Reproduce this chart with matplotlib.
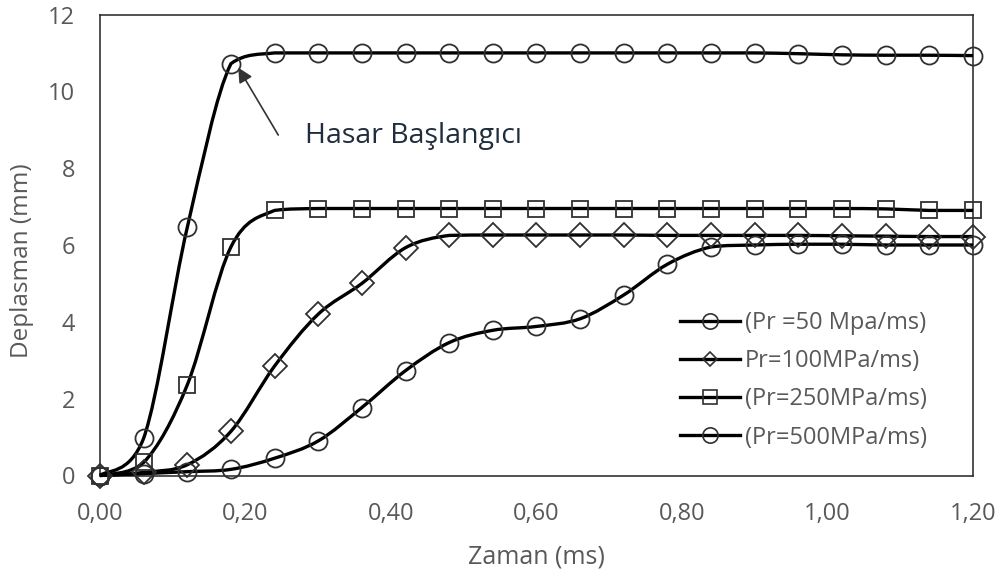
import numpy as np
import matplotlib
matplotlib.use('Agg')
import matplotlib.pyplot as plt
from matplotlib.path import Path
from matplotlib.patches import PathPatch
from matplotlib.lines import Line2D
from matplotlib.ticker import FuncFormatter

###############################################################################
# Data
###############################################################################
zaman = [0.00, 0.06, 0.12, 0.18, 0.24, 0.30, 0.36, 0.42, 0.48, 0.54, 0.60,
         0.66, 0.72, 0.78, 0.84, 0.90, 0.96, 1.02, 1.08, 1.14, 1.20]

pr50 = [0.0, 0.05, 0.10, 0.16, 0.45, 0.90, 1.77, 2.73, 3.46, 3.78, 3.88,
        4.08, 4.70, 5.50, 5.95, 6.00, 6.02, 6.02, 6.00, 6.00, 6.00]
pr100 = [0.0, 0.08, 0.28, 1.15, 2.85, 4.20, 5.00, 5.93, 6.25, 6.26, 6.26,
         6.26, 6.26, 6.25, 6.25, 6.25, 6.25, 6.24, 6.23, 6.22, 6.22]
pr250 = [0.0, 0.34, 2.36, 5.95, 6.90, 6.95, 6.95, 6.95, 6.95, 6.95, 6.95,
         6.95, 6.95, 6.95, 6.95, 6.95, 6.95, 6.95, 6.94, 6.90, 6.90]
pr500 = [0.0, 0.97, 6.46, 10.72, 11.00, 11.00, 11.00, 11.00, 11.00, 11.00, 11.00,
         11.00, 11.00, 11.00, 11.00, 11.00, 10.98, 10.95, 10.94, 10.94, 10.93]

etiketler = ['(Pr =50 Mpa/ms)', 'Pr=100MPa/ms)', '(Pr=250MPa/ms)', '(Pr=500MPa/ms)']
isaretler = ['o', 'D', 's', 'o']

plt.rcParams['font.family'] = ['Open Sans', 'DejaVu Sans']


def smoothPath(x, y):
    '''
    Excel style smoothed line: Bezier segments through the data points,
    control points clipped to the segment range to avoid overshoot.
    '''
    x = np.asarray(x, float)
    y = np.asarray(y, float)
    n = len(x)
    verts = [(x[0], y[0])]
    codes = [Path.MOVETO]
    for i in range(n - 1):
        i0 = max(i - 1, 0)
        i3 = min(i + 2, n - 1)
        c1x = x[i] + (x[i + 1] - x[i0]) / 6
        c1y = y[i] + (y[i + 1] - y[i0]) / 6
        c2x = x[i + 1] - (x[i3] - x[i]) / 6
        c2y = y[i + 1] - (y[i3] - y[i]) / 6
        lo, hi = min(y[i], y[i + 1]), max(y[i], y[i + 1])
        c1y = min(max(c1y, lo), hi)
        c2y = min(max(c2y, lo), hi)
        verts += [(c1x, c1y), (c2x, c2y), (x[i + 1], y[i + 1])]
        codes += [Path.CURVE4] * 3
    return Path(verts, codes)


fig = plt.figure(figsize=(10.03, 5.81), dpi=100)
ax = fig.add_axes([100 / 1003, 1 - 475.5 / 581, 873 / 1003, 461 / 581])

edge = '#303030'
for seri, isaret in zip([pr50, pr100, pr250, pr500], isaretler):
    patch = PathPatch(smoothPath(zaman, seri), facecolor='none',
                      edgecolor='black', lw=2.4, transform=ax.transData,
                      clip_on=False, zorder=3)
    ax.add_patch(patch)
    ms = 12.5 if isaret == 'D' else 13
    ms = 11.5 if isaret == 's' else ms
    ax.plot(zaman, seri, linestyle='none', marker=isaret, ms=ms,
            markerfacecolor='none', markeredgecolor=edge, mew=1.3,
            clip_on=False, zorder=4)

ax.set_xlim(0, 1.2)
ax.set_ylim(0, 12)
ax.set_xticks(np.arange(0, 1.21, 0.2))
ax.set_yticks(np.arange(0, 13, 2))
ax.xaxis.set_major_formatter(FuncFormatter(lambda v, p: ('%.2f' % v).replace('.', ',')))
ax.tick_params(length=0, labelsize=17, labelcolor='#595959')
ax.tick_params(axis='y', pad=18)
ax.tick_params(axis='x', pad=19)
for s in ax.spines.values():
    s.set_linewidth(1.1)
    s.set_color('#222222')

fig.text(536 / 1003, 1 - 557 / 581, 'Zaman (ms)', ha='center', va='center',
         fontsize=18, color='#595959')
fig.text(22 / 1003, 1 - 261 / 581, 'Deplasman (mm)', ha='center', va='center',
         rotation=90, fontsize=17.5, color='#595959')

# Annotation
ax.annotate('', xy=(0.188, 10.68), xytext=(0.247, 8.8),
            arrowprops=dict(arrowstyle='-|>', color='#333333', lw=1.2,
                            mutation_scale=22), zorder=5)
ax.text(0.282, 8.84, 'Hasar Başlangıcı', fontsize=20.5, color='#1f2d3d',
        ha='left', va='center')

# Legend
handles = [Line2D([], [], color='black', lw=2.4, marker=m, ms=11,
                  markerfacecolor='none', markeredgecolor=edge, mew=1.2)
           for m in isaretler]
handles[1].set_markersize(7)
handles[2].set_markersize(9.5)
leg = fig.legend(handles, etiketler, loc='upper left',
                 bbox_to_anchor=(680 / 1003, 1 - 311 / 581), frameon=False,
                 fontsize=17, handlelength=2.55, handletextpad=0.2,
                 labelspacing=0.6, borderpad=0, borderaxespad=0)
for t in leg.get_texts():
    t.set_color('#595959')

fig.savefig('out.png', dpi=100)
